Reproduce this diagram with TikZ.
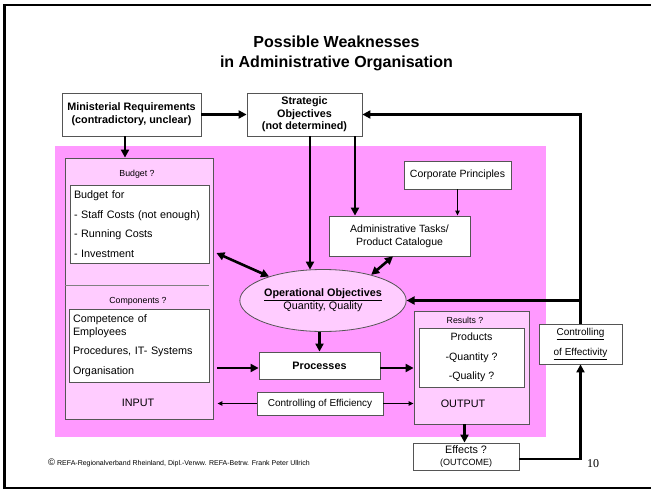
\documentclass[tikz,border=0pt]{standalone}
\usepackage{fontspec}
\setmainfont{Liberation Sans}
\newfontfamily\serifnum{Liberation Serif}
\usetikzlibrary{arrows.meta,shapes.geometric,calc}
\definecolor{pinkbg}{RGB}{255,153,255}
\definecolor{pinklt}{RGB}{255,204,255}
\definecolor{bordergray}{RGB}{85,85,85}
\tikzset{
  box/.style={draw=bordergray, line width=0.8pt, fill=white, inner sep=0pt, align=center},
  fs/.style={font=\fontsize{#1}{#1}\selectfont},
  thickarr/.style={line width=2.6pt, -{Triangle[length=8pt,width=8pt]}},
  thinarr/.style={line width=1.2pt, -{Triangle[length=5pt,width=4.5pt]}},
  dblarr/.style={line width=2.6pt, {Triangle[length=8pt,width=8pt]}-{Triangle[length=8pt,width=8pt]}},
  lbl/.style={inner sep=0pt, align=center},
}
\begin{document}
\begin{tikzpicture}[x=1pt,y=-1pt]
\useasboundingbox (0,0) rectangle (651,490);
% frame
\draw[line width=2.2pt] (4.5,5) rectangle (660,488);
% title
\node[lbl, font=\fontsize{16}{20}\selectfont\bfseries] (title) at (336.5,53) {Possible Weaknesses\\in Administrative Organisation};
% pink background
\fill[pinkbg] (55,146) rectangle (546,437);

% top boxes
\node[box, minimum width=139pt, minimum height=43pt, font=\fontsize{10.8}{13}\selectfont\bfseries] (mini) at (131.5,114.5) {Ministerial Requirements\\(contradictory, unclear)};
\node[box, minimum width=115pt, minimum height=43pt, font=\fontsize{10.8}{12.5}\selectfont\bfseries] (strat) at (304.5,114.5) {Strategic\\Objectives\\(not determined)};

% INPUT block
\node[draw=bordergray, line width=0.8pt, fill=pinklt, minimum width=148pt, minimum height=261pt, inner sep=0pt] (input) at (139,288.5) {};
\node[lbl, fs=8.8] (budgetq) at (137,174) {Budget ?};
\node[box, minimum width=139pt, minimum height=78pt, text width=131pt, align=left, font=\fontsize{10.8}{19.5}\selectfont] (budget) at (139.5,224) {Budget for\\- Staff Costs (not enough)\\- Running Costs\\- Investment};
\draw[draw=gray, line width=0.8pt] (input.west |- 0,285) -- (209,285);
\node[lbl, fs=8.8] (compq) at (138,301) {Components ?};
\node[box, minimum width=140pt, minimum height=73pt, text width=132pt, align=left, font=\fontsize{10.8}{13}\selectfont] (comp) at (139,345.5) {Competence of\\Employees\\[6.5pt]Procedures, IT- Systems\\[6.5pt]Organisation};
\node[lbl, fs=10.8] (inputlbl) at (138,403) {INPUT};

% right upper boxes
\node[box, minimum width=107pt, minimum height=28pt, fs=10.5] (corp) at (457.5,175) {Corporate Principles};
\node[box, minimum width=141pt, minimum height=40pt, font=\fontsize{10.5}{13}\selectfont] (admin) at (399.5,236) {Administrative Tasks/\\Product Catalogue};

% ellipse
\node[ellipse, draw=bordergray, line width=0.8pt, fill=pinklt, minimum width=156pt, minimum height=62pt, inner sep=0pt, align=center, font=\fontsize{10.8}{13}\selectfont] (ell) at (323,300.5) {\textbf{\underline{Operational Objectives}}\\Quantity, Quality};

% processes, efficiency
\node[box, minimum width=121pt, minimum height=27pt, font=\fontsize{10.8}{13}\selectfont\bfseries] (proc) at (319.5,365.5) {Processes};
\node[box, minimum width=126pt, minimum height=23pt, fs=10] (effy) at (320,403.5) {Controlling of Efficiency};

% OUTPUT block
\node[draw=bordergray, line width=0.8pt, fill=pinklt, minimum width=115pt, minimum height=113pt, inner sep=0pt] (output) at (471.5,367.5) {};
\node[lbl, fs=8.8] (resq) at (465,320) {Results ?};
\node[box, minimum width=105pt, minimum height=59pt, font=\fontsize{10.6}{19.5}\selectfont] (prod) at (471.5,357.5) {Products\\-Quantity ?\\-Quality ?};
\node[lbl, fs=10.8] (outputlbl) at (463,404) {OUTPUT};

% effects and effectivity
\node[box, minimum width=106pt, minimum height=27pt, font=\fontsize{10.8}{12}\selectfont] (effects) at (466,456.5) {Effects ?\\{\fontsize{9}{9}\selectfont (OUTCOME)}};
\node[box, minimum width=83pt, minimum height=40pt, font=\fontsize{10}{20}\selectfont] (ctrl) at (580.5,344) {\underline{Controlling}\\\underline{of Effectivity}};

% footer
\node[lbl, anchor=west, fs=7] (footer) at (48,463) {{\fontsize{9.5}{9.5}\selectfont\textcopyright}\ REFA-Regionalverband Rheinland, Dipl.-Verww. REFA-Betrw. Frank Peter Ullrich};
\node[lbl, font=\fontsize{12}{12}\selectfont\serifnum] (pagenum) at (593,464) {10};

% connectors
\draw[thickarr] (mini.east) -- (strat.west);
\draw[thickarr] ($(mini.south)+(-6.5,0)$) -- ($(mini.south |- input.north)+(-6.5,0)$);
\draw[thickarr] ($(strat.south)+(5.5,0)$) -- ($(strat.south |- ell.north)+(5.5,0.5)$);
\draw[thickarr] ($(strat.south)+(50.5,0)$) -- ($(strat.south |- admin.north)+(50.5,0)$);
\draw[thinarr] (corp.south) -- (corp.south |- admin.north);
\draw[dblarr] ($(admin.south)+(-6.5,0)$) -- (ell.28.5);
\draw[dblarr] ($(input.east)+(3,-35.5)$) -- (ell.156);
\draw[thickarr] (proc.north |- ell.south) -- (proc.north);
\draw[thickarr] ($(proc.west -| input.east)+(4,2.5)$) -- ($(proc.west)+(0,2.5)$);
\draw[thickarr] ($(proc.east)+(0,2.5)$) -- ($(proc.east -| output.west)+(0,2.5)$);
\draw[thinarr] (effy.west) -- ($(effy.west -| input.east)+(4,0)$);
\draw[thinarr] (effy.east) -- (effy.east -| output.west);
\draw[thickarr] ($(output.south)+(-7,0)$) -- ($(output.south |- effects.north)+(-7,0)$);
\draw[thickarr] ($(effects.east)+(0,2.5)$) -| (ctrl.south);
\draw[thickarr] (ctrl.north) |- (strat.east);
\draw[thickarr] (ctrl.north |- ell.east) -- (ell.east);
\end{tikzpicture}
\end{document}
